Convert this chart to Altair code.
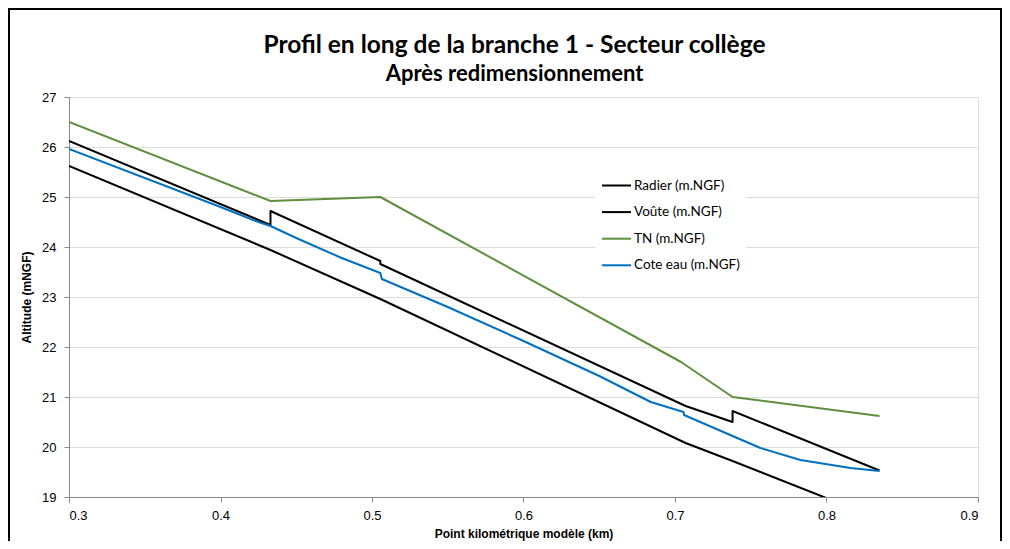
import altair as alt
import pandas as pd

# ---- data ----
series_names = ["Radier (m.NGF)", "Voûte (m.NGF)", "TN (m.NGF)", "Cote eau (m.NGF)"]
series_colors = ["#000000", "#000000", "#5e8e3e", "#0070c0"]
series_widths = [2, 2, 2, 3]

radier_km = [0.300, 0.433, 0.5055, 0.707, 0.738, 0.835]
radier_alt = [25.62, 23.94, 22.96, 20.08, 19.72, 18.56]

voute_km = [0.300, 0.433, 0.433, 0.5055, 0.5055, 0.707, 0.738, 0.738, 0.835]
voute_alt = [26.12, 24.44, 24.72, 23.72, 23.66, 20.82, 20.50, 20.72, 19.53]

tn_km = [0.300, 0.433, 0.5055, 0.704, 0.738, 0.835]
tn_alt = [26.50, 24.92, 25.00, 21.70, 21.00, 20.62]

eau_km = [0.300, 0.400, 0.425, 0.433, 0.450, 0.480, 0.5055, 0.5065, 0.550, 0.600,
          0.650, 0.684, 0.7056, 0.7060, 0.738, 0.7564, 0.7828, 0.8158, 0.835]
eau_alt = [25.96, 24.80, 24.50, 24.42, 24.18, 23.78, 23.48, 23.36, 22.80, 22.12,
           21.42, 20.90, 20.70, 20.64, 20.22, 19.98, 19.74, 19.58, 19.52]

x_ticks = [0.3, 0.4, 0.5, 0.6, 0.7, 0.8, 0.9]
y_ticks = [19, 20, 21, 22, 23, 24, 25, 26, 27]

title_line1 = "Profil en long de la branche 1 - Secteur collège"
title_line2 = "Après redimensionnement"
x_title = "Point kilométrique modèle (km)"
y_title = "Altitude (mNGF)"

rows = []
for name, kms, alts in [
    (series_names[0], radier_km, radier_alt),
    (series_names[1], voute_km, voute_alt),
    (series_names[2], tn_km, tn_alt),
    (series_names[3], eau_km, eau_alt),
]:
    for i, (k, a) in enumerate(zip(kms, alts)):
        rows.append({"serie": name, "km": k, "alt": a, "idx": i})
df = pd.DataFrame(rows)

FONT = "Lato"
W, H = 909, 400

lines = alt.Chart(df).mark_line(clip=True, strokeJoin="round").encode(
    x=alt.X("km:Q",
            scale=alt.Scale(domain=[0.3, 0.9], nice=False, zero=False),
            axis=alt.Axis(values=x_ticks, format=".1f", title=x_title, grid=False,
                          labelFontSize=13, titleFontSize=12, titleFontWeight="bold",
                          titlePadding=6, labelPadding=7, tickSize=5)),
    y=alt.Y("alt:Q",
            scale=alt.Scale(domain=[19, 27], nice=False, zero=False),
            axis=alt.Axis(values=y_ticks, format="d", title=y_title, grid=True,
                          labelFontSize=13, titleFontSize=12, titleFontWeight="bold",
                          titlePadding=8, labelPadding=8, tickSize=5)),
    color=alt.Color("serie:N",
                    scale=alt.Scale(domain=series_names, range=series_colors),
                    legend=alt.Legend(title=None, orient="none", legendX=526, legendY=67,
                                      symbolType="stroke", symbolSize=841,
                                      symbolStrokeWidth=2.5, labelFontSize=13.5,
                                      labelFont=FONT, fillColor="white",
                                      padding=6, rowPadding=4.6, labelOffset=2)),
    strokeWidth=alt.StrokeWidth("serie:N",
                                scale=alt.Scale(domain=series_names, range=series_widths),
                                legend=None),
    order="idx:Q",
)

frame = alt.Chart(pd.DataFrame({"a": [0]})).mark_rect(
    fillOpacity=0, stroke="black", strokeWidth=2, clip=False
).encode(
    x=alt.value(-60), x2=alt.value(932), y=alt.value(-88), y2=alt.value(470)
)

chart = alt.layer(lines, frame).properties(
    width=W, height=H,
    title=alt.Title(title_line1, subtitle=title_line2,
                    fontSize=24.5, font=FONT, fontWeight="bold", color="black",
                    subtitleFontSize=22, subtitleFont=FONT, subtitleFontWeight="bold",
                    subtitleColor="black", subtitlePadding=6,
                    anchor="middle", offset=0, dy=78, dx=-9),
    padding={"left": 61, "top": 89, "right": 24, "bottom": 44},
    autosize=alt.AutoSizeParams(type="none"),
).configure_view(stroke=None).configure_axis(
    labelFont=FONT, titleFont=FONT, labelColor="black", titleColor="black",
    domainColor="#868686", tickColor="#868686", gridColor="#b0b0b0", gridWidth=1,
).configure(background="white")

chart.save("out.html", embed_options={"renderer": "svg", "actions": False})
